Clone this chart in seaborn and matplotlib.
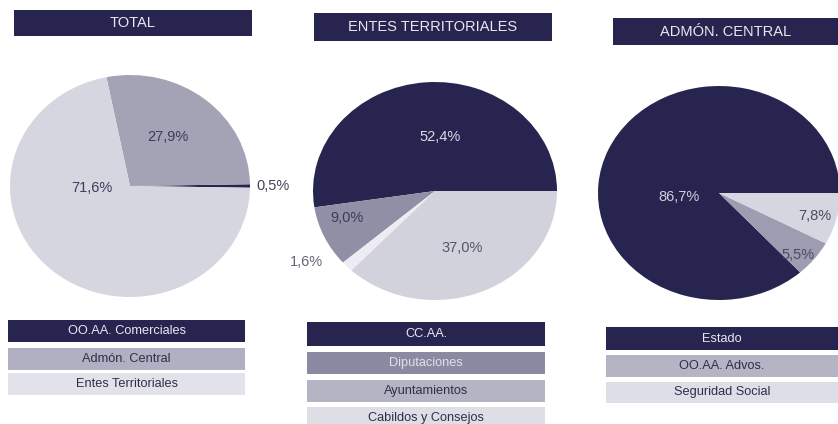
import numpy as np
import matplotlib
matplotlib.use("Agg")
import matplotlib.pyplot as plt
from matplotlib.patches import Rectangle
import seaborn as sns

# ---------------- data ----------------
panel_titles = ["TOTAL", "ENTES TERRITORIALES", "ADMÓN. CENTRAL"]

total_labels = ["OO.AA. Comerciales", "Admón. Central", "Entes Territoriales"]
total_values = [0.5, 27.9, 71.6]

entes_labels = ["CC.AA.", "Diputaciones", "Ayuntamientos", "Cabildos y Consejos"]
entes_values = [52.4, 9.0, 37.0, 1.6]

central_labels = ["Estado", "OO.AA. Advos.", "Seguridad Social"]
central_values = [86.7, 5.5, 7.8]

# ---------------- style ----------------
sns.set_theme(style="white")
plt.rcParams["font.family"] = ["Liberation Sans", "DejaVu Sans"]

NAVY = "#27244f"
W, H = 838, 424
fig = plt.figure(figsize=(W / 100, H / 100), dpi=100)
fig.patch.set_facecolor("white")


def fbox(x0, y0, x1, y1):
    """pixel box (top-left origin) -> figure fraction [l, b, w, h]"""
    return [x0 / W, 1 - y1 / H, (x1 - x0) / W, (y1 - y0) / H]


def bar(x0, y0, x1, y1, color, text, tcolor, size):
    l, b, w, h = fbox(x0, y0, x1, y1)
    fig.patches.append(Rectangle((l, b), w, h, transform=fig.transFigure,
                                 facecolor=color, edgecolor="none", zorder=0))
    fig.text(l + w / 2, b + h / 2, text, ha="center", va="center",
             color=tcolor, fontsize=size, zorder=2)


def pie_panel(box, values, order, colors, startangle, label_frac, label_r,
              label_colors, label_ha):
    ax = fig.add_axes(fbox(*box))
    vals = [values[i] for i in order]
    cols = [colors[i] for i in order]
    wedges, _ = ax.pie(vals, colors=cols, startangle=startangle,
                       counterclock=True, radius=1.0,
                       wedgeprops=dict(linewidth=0))
    ax.set_aspect("auto")
    ax.set_xlim(-1, 1)
    ax.set_ylim(-1, 1)
    ax.axis("off")
    for w, i in zip(wedges, order):
        th = np.deg2rad(w.theta1 + label_frac[i] * (w.theta2 - w.theta1))
        r = label_r[i]
        txt = f"{values[i]:.1f}%".replace(".", ",")
        ax.text(r * np.cos(th), r * np.sin(th), txt, ha=label_ha[i],
                va="center", fontsize=10.5, color=label_colors[i])
    return ax


# ---------------- TOTAL ----------------
total_colors = [NAVY, "#a3a3b5", "#d6d6e0"]
pie_panel((10, 75, 250, 297), total_values, [0, 1, 2], total_colors, -0.9,
          label_frac=[0.5, 0.53, 0.32], label_r=[1.05, 0.54, 0.32],
          label_colors=["#444455", "#3c3c5c", "#3c3c5c"],
          label_ha=["left", "center", "center"])

# ---------------- ENTES TERRITORIALES ----------------
entes_colors = [NAVY, "#8f8fa6", "#d2d2dc", "#ececf2"]
pie_panel((313, 82, 557, 300), entes_values, [0, 1, 3, 2], entes_colors, 0,
          label_frac=[0.45, 0.32, 0.50, -1.6], label_r=[0.5, 0.76, 0.57, 1.24],
          label_colors=["#d8d8e6", "#3c3c5c", "#55556a", "#666677"],
          label_ha=["center", "center", "center", "center"])

# ---------------- ADMÓN. CENTRAL ----------------
central_colors = [NAVY, "#9d9db2", "#d6d6e0"]
pie_panel((598, 86, 840, 300), central_values, [0, 1, 2], central_colors, 0,
          label_frac=[0.6, 0.31, 0.46], label_r=[0.33, 0.87, 0.82],
          label_colors=["#d0d0de", "#4a4a60", "#4a4a60"],
          label_ha=["center", "center", "center"])

# ---------------- title bars ----------------
bar(14, 10, 252, 36, NAVY, panel_titles[0], "#e8e8f2", 10.5)
bar(314, 13, 552, 41, NAVY, panel_titles[1], "#e8e8f2", 10.5)
bar(613, 18, 838, 45, NAVY, panel_titles[2], "#e8e8f2", 10.5)

# ---------------- legend bars ----------------
total_leg_colors = [NAVY, "#b0b0c2", "#e2e2ea"]
total_leg_text = ["#e8e8f2", "#2e2e4a", "#2e2e4a"]
rows = [(320, 342), (348, 370), (373, 395)]
for lab, c, tc, (y0, y1) in zip(total_labels, total_leg_colors, total_leg_text, rows):
    bar(8, y0, 245, y1, c, lab, tc, 9.2)

entes_leg_colors = [NAVY, "#8a8aa2", "#b4b4c4", "#dedee6"]
entes_leg_text = ["#e8e8f2", "#e0e0ea", "#2e2e4a", "#2e2e4a"]
rows = [(322, 346), (352, 374), (380, 402), (407, 428)]
for lab, c, tc, (y0, y1) in zip(entes_labels, entes_leg_colors, entes_leg_text, rows):
    bar(307, y0, 545, y1, c, lab, tc, 9.2)

central_leg_colors = [NAVY, "#b4b4c4", "#dedee6"]
central_leg_text = ["#e8e8f2", "#2e2e4a", "#2e2e4a"]
rows = [(327, 350), (355, 377), (382, 403)]
for lab, c, tc, (y0, y1) in zip(central_labels, central_leg_colors, central_leg_text, rows):
    bar(606, y0, 838, y1, c, lab, tc, 9.2)

fig.savefig("out.png", dpi=100)
